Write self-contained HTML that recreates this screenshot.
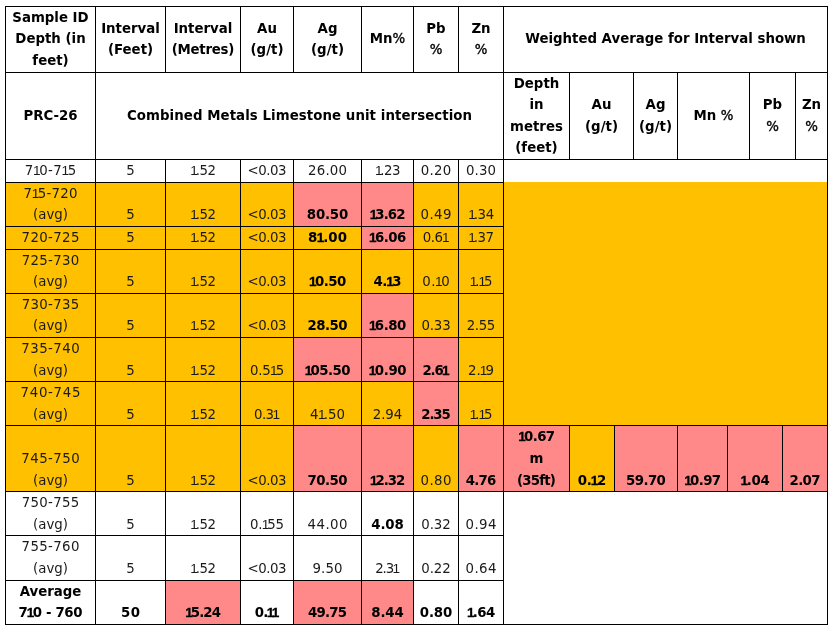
<!DOCTYPE html>
<html lang="en"><head><meta charset="utf-8"><title>PRC-26 assay intervals</title>
<style>
html,body{margin:0;padding:0;background:#fff}
body{width:835px;height:632px;position:relative;overflow:hidden;font-family:"DejaVu Sans","Liberation Sans",sans-serif;font-size:13.33px;color:#1a1a1a}
.r,.l,.t{position:absolute}
.l{background:#000}
.t{height:20px;line-height:20px;text-align:center;white-space:nowrap;font-weight:400}
.b{font-weight:700;color:#000}
.t i{font-style:normal;font-family:"Liberation Sans",sans-serif;font-size:13.6px;margin:0 -1.8px 0 -0.7px}
.b i{margin:0 -1.2px 0 -0.6px;-webkit-text-stroke:0.3px #000}
.t u{text-decoration:none;font-weight:400;-webkit-text-stroke:0.35px #000}
.t i.f{margin-left:0.4px}
.t i.e{margin-right:-0.2px}
.b i.f{margin-left:0.3px}
.b i.e{margin-right:0}

</style></head><body>
<div class="r" style="left:5px;top:182px;width:90px;height:44px;background:#FFC000"></div>
<div class="r" style="left:95px;top:182px;width:70px;height:44px;background:#FFC000"></div>
<div class="r" style="left:165px;top:182px;width:75px;height:44px;background:#FFC000"></div>
<div class="r" style="left:240px;top:182px;width:53px;height:44px;background:#FFC000"></div>
<div class="r" style="left:293px;top:182px;width:68px;height:44px;background:#FF8989"></div>
<div class="r" style="left:361px;top:182px;width:52px;height:44px;background:#FF8989"></div>
<div class="r" style="left:413px;top:182px;width:45px;height:44px;background:#FFC000"></div>
<div class="r" style="left:458px;top:182px;width:45px;height:44px;background:#FFC000"></div>
<div class="r" style="left:5px;top:226px;width:90px;height:23px;background:#FFC000"></div>
<div class="r" style="left:95px;top:226px;width:70px;height:23px;background:#FFC000"></div>
<div class="r" style="left:165px;top:226px;width:75px;height:23px;background:#FFC000"></div>
<div class="r" style="left:240px;top:226px;width:53px;height:23px;background:#FFC000"></div>
<div class="r" style="left:293px;top:226px;width:68px;height:23px;background:#FFC000"></div>
<div class="r" style="left:361px;top:226px;width:52px;height:23px;background:#FF8989"></div>
<div class="r" style="left:413px;top:226px;width:45px;height:23px;background:#FFC000"></div>
<div class="r" style="left:458px;top:226px;width:45px;height:23px;background:#FFC000"></div>
<div class="r" style="left:5px;top:249px;width:90px;height:44px;background:#FFC000"></div>
<div class="r" style="left:95px;top:249px;width:70px;height:44px;background:#FFC000"></div>
<div class="r" style="left:165px;top:249px;width:75px;height:44px;background:#FFC000"></div>
<div class="r" style="left:240px;top:249px;width:53px;height:44px;background:#FFC000"></div>
<div class="r" style="left:293px;top:249px;width:68px;height:44px;background:#FFC000"></div>
<div class="r" style="left:361px;top:249px;width:52px;height:44px;background:#FFC000"></div>
<div class="r" style="left:413px;top:249px;width:45px;height:44px;background:#FFC000"></div>
<div class="r" style="left:458px;top:249px;width:45px;height:44px;background:#FFC000"></div>
<div class="r" style="left:5px;top:293px;width:90px;height:44px;background:#FFC000"></div>
<div class="r" style="left:95px;top:293px;width:70px;height:44px;background:#FFC000"></div>
<div class="r" style="left:165px;top:293px;width:75px;height:44px;background:#FFC000"></div>
<div class="r" style="left:240px;top:293px;width:53px;height:44px;background:#FFC000"></div>
<div class="r" style="left:293px;top:293px;width:68px;height:44px;background:#FFC000"></div>
<div class="r" style="left:361px;top:293px;width:52px;height:44px;background:#FF8989"></div>
<div class="r" style="left:413px;top:293px;width:45px;height:44px;background:#FFC000"></div>
<div class="r" style="left:458px;top:293px;width:45px;height:44px;background:#FFC000"></div>
<div class="r" style="left:5px;top:337px;width:90px;height:44px;background:#FFC000"></div>
<div class="r" style="left:95px;top:337px;width:70px;height:44px;background:#FFC000"></div>
<div class="r" style="left:165px;top:337px;width:75px;height:44px;background:#FFC000"></div>
<div class="r" style="left:240px;top:337px;width:53px;height:44px;background:#FFC000"></div>
<div class="r" style="left:293px;top:337px;width:68px;height:44px;background:#FF8989"></div>
<div class="r" style="left:361px;top:337px;width:52px;height:44px;background:#FF8989"></div>
<div class="r" style="left:413px;top:337px;width:45px;height:44px;background:#FF8989"></div>
<div class="r" style="left:458px;top:337px;width:45px;height:44px;background:#FFC000"></div>
<div class="r" style="left:5px;top:381px;width:90px;height:44px;background:#FFC000"></div>
<div class="r" style="left:95px;top:381px;width:70px;height:44px;background:#FFC000"></div>
<div class="r" style="left:165px;top:381px;width:75px;height:44px;background:#FFC000"></div>
<div class="r" style="left:240px;top:381px;width:53px;height:44px;background:#FFC000"></div>
<div class="r" style="left:293px;top:381px;width:68px;height:44px;background:#FFC000"></div>
<div class="r" style="left:361px;top:381px;width:52px;height:44px;background:#FFC000"></div>
<div class="r" style="left:413px;top:381px;width:45px;height:44px;background:#FF8989"></div>
<div class="r" style="left:458px;top:381px;width:45px;height:44px;background:#FFC000"></div>
<div class="r" style="left:5px;top:425px;width:90px;height:66px;background:#FFC000"></div>
<div class="r" style="left:95px;top:425px;width:70px;height:66px;background:#FFC000"></div>
<div class="r" style="left:165px;top:425px;width:75px;height:66px;background:#FFC000"></div>
<div class="r" style="left:240px;top:425px;width:53px;height:66px;background:#FFC000"></div>
<div class="r" style="left:293px;top:425px;width:68px;height:66px;background:#FF8989"></div>
<div class="r" style="left:361px;top:425px;width:52px;height:66px;background:#FF8989"></div>
<div class="r" style="left:413px;top:425px;width:45px;height:66px;background:#FFC000"></div>
<div class="r" style="left:458px;top:425px;width:45px;height:66px;background:#FF8989"></div>
<div class="r" style="left:165px;top:580px;width:75px;height:44px;background:#FF8989"></div>
<div class="r" style="left:293px;top:580px;width:68px;height:44px;background:#FF8989"></div>
<div class="r" style="left:361px;top:580px;width:52px;height:44px;background:#FF8989"></div>
<div class="r" style="left:503px;top:182px;width:324px;height:243px;background:#FFC000"></div>
<div class="r" style="left:503px;top:425px;width:66px;height:66px;background:#FF8989"></div>
<div class="r" style="left:569px;top:425px;width:45px;height:66px;background:#FFC000"></div>
<div class="r" style="left:614px;top:425px;width:63px;height:66px;background:#FF8989"></div>
<div class="r" style="left:677px;top:425px;width:50px;height:66px;background:#FF8989"></div>
<div class="r" style="left:727px;top:425px;width:55px;height:66px;background:#FF8989"></div>
<div class="r" style="left:782px;top:425px;width:45px;height:66px;background:#FF8989"></div>
<div class="l" style="left:5px;top:6px;width:823px;height:1px"></div>
<div class="l" style="left:5px;top:624px;width:823px;height:1px"></div>
<div class="l" style="left:5px;top:6px;width:1px;height:619px"></div>
<div class="l" style="left:827px;top:6px;width:1px;height:619px"></div>
<div class="l" style="left:5px;top:72px;width:823px;height:1px"></div>
<div class="l" style="left:5px;top:159px;width:823px;height:1px"></div>
<div class="l" style="left:5px;top:182px;width:499px;height:1px"></div>
<div class="l" style="left:5px;top:226px;width:499px;height:1px"></div>
<div class="l" style="left:5px;top:249px;width:499px;height:1px"></div>
<div class="l" style="left:5px;top:293px;width:499px;height:1px"></div>
<div class="l" style="left:5px;top:337px;width:499px;height:1px"></div>
<div class="l" style="left:5px;top:381px;width:499px;height:1px"></div>
<div class="l" style="left:5px;top:425px;width:499px;height:1px"></div>
<div class="l" style="left:5px;top:491px;width:499px;height:1px"></div>
<div class="l" style="left:5px;top:535px;width:499px;height:1px"></div>
<div class="l" style="left:5px;top:580px;width:499px;height:1px"></div>
<div class="l" style="left:503px;top:425px;width:325px;height:1px"></div>
<div class="l" style="left:503px;top:491px;width:325px;height:1px"></div>
<div class="l" style="left:95px;top:6px;width:1px;height:67px"></div>
<div class="l" style="left:95px;top:159px;width:1px;height:466px"></div>
<div class="l" style="left:165px;top:6px;width:1px;height:67px"></div>
<div class="l" style="left:165px;top:159px;width:1px;height:466px"></div>
<div class="l" style="left:240px;top:6px;width:1px;height:67px"></div>
<div class="l" style="left:240px;top:159px;width:1px;height:466px"></div>
<div class="l" style="left:293px;top:6px;width:1px;height:67px"></div>
<div class="l" style="left:293px;top:159px;width:1px;height:466px"></div>
<div class="l" style="left:361px;top:6px;width:1px;height:67px"></div>
<div class="l" style="left:361px;top:159px;width:1px;height:466px"></div>
<div class="l" style="left:413px;top:6px;width:1px;height:67px"></div>
<div class="l" style="left:413px;top:159px;width:1px;height:466px"></div>
<div class="l" style="left:458px;top:6px;width:1px;height:67px"></div>
<div class="l" style="left:458px;top:159px;width:1px;height:466px"></div>
<div class="l" style="left:95px;top:72px;width:1px;height:88px"></div>
<div class="l" style="left:503px;top:6px;width:1px;height:619px"></div>
<div class="l" style="left:569px;top:72px;width:1px;height:88px"></div>
<div class="l" style="left:633px;top:72px;width:1px;height:88px"></div>
<div class="l" style="left:677px;top:72px;width:1px;height:88px"></div>
<div class="l" style="left:749px;top:72px;width:1px;height:88px"></div>
<div class="l" style="left:795px;top:72px;width:1px;height:88px"></div>
<div class="l" style="left:569px;top:425px;width:1px;height:67px"></div>
<div class="l" style="left:614px;top:425px;width:1px;height:67px"></div>
<div class="l" style="left:677px;top:425px;width:1px;height:67px"></div>
<div class="l" style="left:727px;top:425px;width:1px;height:67px"></div>
<div class="l" style="left:782px;top:425px;width:1px;height:67px"></div>
<div class="t b" style="left:6px;width:89px;top:8px">Sample ID</div>
<div class="t b" style="left:6px;width:89px;top:29px">Depth (in</div>
<div class="t b" style="left:6px;width:89px;top:51px">feet)</div>
<div class="t b" style="left:96px;width:69px;top:19px">Interval</div>
<div class="t b" style="left:96px;width:69px;top:40px">(Feet)</div>
<div class="t b" style="left:166px;width:74px;top:19px">Interval</div>
<div class="t b" style="left:166px;width:74px;top:40px;letter-spacing:-0.26px;text-indent:-0.26px">(Metres)</div>
<div class="t b" style="left:241px;width:52px;top:19px">Au</div>
<div class="t b" style="left:241px;width:52px;top:40px">(g/t)</div>
<div class="t b" style="left:294px;width:67px;top:19px">Ag</div>
<div class="t b" style="left:294px;width:67px;top:40px">(g/t)</div>
<div class="t b" style="left:362px;width:51px;top:29px">Mn<u>%</u></div>
<div class="t b" style="left:414px;width:44px;top:19px">Pb</div>
<div class="t b" style="left:414px;width:44px;top:40px"><u>%</u></div>
<div class="t b" style="left:459px;width:44px;top:19px">Zn</div>
<div class="t b" style="left:459px;width:44px;top:40px"><u>%</u></div>
<div class="t b" style="left:504px;width:323px;top:29px">Weighted Average for Interval shown</div>
<div class="t b" style="left:6px;width:89px;top:106px">PRC-26</div>
<div class="t b" style="left:96px;width:407px;top:106px;letter-spacing:0.07px;text-indent:0.07px">Combined Metals Limestone unit intersection</div>
<div class="t b" style="left:504px;width:65px;top:74px">Depth</div>
<div class="t b" style="left:504px;width:65px;top:95px">in</div>
<div class="t b" style="left:504px;width:65px;top:117px">metres</div>
<div class="t b" style="left:504px;width:65px;top:138px">(feet)</div>
<div class="t b" style="left:570px;width:63px;top:95px">Au</div>
<div class="t b" style="left:570px;width:63px;top:117px">(g/t)</div>
<div class="t b" style="left:634px;width:43px;top:95px">Ag</div>
<div class="t b" style="left:634px;width:43px;top:117px">(g/t)</div>
<div class="t b" style="left:678px;width:71px;top:106px">Mn <u>%</u></div>
<div class="t b" style="left:750px;width:45px;top:95px">Pb</div>
<div class="t b" style="left:750px;width:45px;top:117px"><u>%</u></div>
<div class="t b" style="left:796px;width:31px;top:95px">Zn</div>
<div class="t b" style="left:796px;width:31px;top:117px"><u>%</u></div>
<div class="t" style="left:6px;width:89px;top:161px;letter-spacing:0.4px;text-indent:0.4px">7<i>1</i>0-7<i>1</i>5</div>
<div class="t" style="left:96px;width:69px;top:161px">5</div>
<div class="t" style="left:166px;width:74px;top:161px;letter-spacing:-0.44px;text-indent:-0.44px"><i class="f">1</i>.52</div>
<div class="t" style="left:241px;width:52px;top:161px;letter-spacing:-0.51px;text-indent:-0.51px">&lt;0.03</div>
<div class="t" style="left:294px;width:67px;top:161px;letter-spacing:0.24px;text-indent:0.24px">26.00</div>
<div class="t" style="left:362px;width:51px;top:161px;letter-spacing:-0.51px;text-indent:-0.51px"><i class="f">1</i>.23</div>
<div class="t" style="left:414px;width:44px;top:161px;letter-spacing:0.25px;text-indent:0.25px">0.20</div>
<div class="t" style="left:459px;width:44px;top:161px;letter-spacing:0.18px;text-indent:0.18px">0.30</div>
<div class="t" style="left:6px;width:89px;top:184px;letter-spacing:0.26px;text-indent:0.26px">7<i>1</i>5-720</div>
<div class="t" style="left:6px;width:89px;top:205px">(avg)</div>
<div class="t" style="left:96px;width:69px;top:205px">5</div>
<div class="t" style="left:166px;width:74px;top:205px;letter-spacing:-0.44px;text-indent:-0.44px"><i class="f">1</i>.52</div>
<div class="t" style="left:241px;width:52px;top:205px;letter-spacing:-0.51px;text-indent:-0.51px">&lt;0.03</div>
<div class="t b" style="left:294px;width:67px;top:205px;letter-spacing:-0.2px;text-indent:-0.2px">80.50</div>
<div class="t b" style="left:362px;width:51px;top:205px;letter-spacing:-0.86px;text-indent:-0.86px"><i class="f">1</i>3.62</div>
<div class="t" style="left:414px;width:44px;top:205px;letter-spacing:0.45px;text-indent:0.45px">0.49</div>
<div class="t" style="left:459px;width:44px;top:205px;letter-spacing:-0.32px;text-indent:-0.32px"><i class="f">1</i>.34</div>
<div class="t" style="left:6px;width:89px;top:228px;letter-spacing:0.35px;text-indent:0.35px">720-725</div>
<div class="t" style="left:96px;width:69px;top:228px">5</div>
<div class="t" style="left:166px;width:74px;top:228px;letter-spacing:-0.44px;text-indent:-0.44px"><i class="f">1</i>.52</div>
<div class="t" style="left:241px;width:52px;top:228px;letter-spacing:-0.51px;text-indent:-0.51px">&lt;0.03</div>
<div class="t b" style="left:294px;width:67px;top:228px;letter-spacing:0.07px;text-indent:0.07px">8<i>1</i>.00</div>
<div class="t b" style="left:362px;width:51px;top:228px;letter-spacing:-0.52px;text-indent:-0.52px"><i class="f">1</i>6.06</div>
<div class="t" style="left:414px;width:44px;top:228px;letter-spacing:-0.41px;text-indent:-0.41px">0.6<i class="e">1</i></div>
<div class="t" style="left:459px;width:44px;top:228px;letter-spacing:-0.39px;text-indent:-0.39px"><i class="f">1</i>.37</div>
<div class="t" style="left:6px;width:89px;top:251px;letter-spacing:0.26px;text-indent:0.26px">725-730</div>
<div class="t" style="left:6px;width:89px;top:272px">(avg)</div>
<div class="t" style="left:96px;width:69px;top:272px">5</div>
<div class="t" style="left:166px;width:74px;top:272px;letter-spacing:-0.44px;text-indent:-0.44px"><i class="f">1</i>.52</div>
<div class="t" style="left:241px;width:52px;top:272px;letter-spacing:-0.51px;text-indent:-0.51px">&lt;0.03</div>
<div class="t b" style="left:294px;width:67px;top:272px;letter-spacing:-0.48px;text-indent:-0.48px"><i class="f">1</i>0.50</div>
<div class="t b" style="left:362px;width:51px;top:272px;letter-spacing:-0.5px;text-indent:-0.5px">4.<i>1</i>3</div>
<div class="t" style="left:414px;width:44px;top:272px;letter-spacing:0.33px;text-indent:0.33px">0.<i>1</i>0</div>
<div class="t" style="left:459px;width:44px;top:272px;letter-spacing:-0.3px;text-indent:-0.3px"><i class="f">1</i>.<i>1</i>5</div>
<div class="t" style="left:6px;width:89px;top:295px;letter-spacing:0.28px;text-indent:0.28px">730-735</div>
<div class="t" style="left:6px;width:89px;top:316px">(avg)</div>
<div class="t" style="left:96px;width:69px;top:316px">5</div>
<div class="t" style="left:166px;width:74px;top:316px;letter-spacing:-0.44px;text-indent:-0.44px"><i class="f">1</i>.52</div>
<div class="t" style="left:241px;width:52px;top:316px;letter-spacing:-0.51px;text-indent:-0.51px">&lt;0.03</div>
<div class="t b" style="left:294px;width:67px;top:316px;letter-spacing:-0.51px;text-indent:-0.51px">28.50</div>
<div class="t b" style="left:362px;width:51px;top:316px;letter-spacing:-0.45px;text-indent:-0.45px"><i class="f">1</i>6.80</div>
<div class="t" style="left:414px;width:44px;top:316px;letter-spacing:-0.15px;text-indent:-0.15px">0.33</div>
<div class="t" style="left:459px;width:44px;top:316px;letter-spacing:-0.42px;text-indent:-0.42px">2.55</div>
<div class="t" style="left:6px;width:89px;top:339px;letter-spacing:0.43px;text-indent:0.43px">735-740</div>
<div class="t" style="left:6px;width:89px;top:361px">(avg)</div>
<div class="t" style="left:96px;width:69px;top:361px">5</div>
<div class="t" style="left:166px;width:74px;top:361px;letter-spacing:-0.44px;text-indent:-0.44px"><i class="f">1</i>.52</div>
<div class="t" style="left:241px;width:52px;top:361px;letter-spacing:-0.14px;text-indent:-0.14px">0.5<i>1</i>5</div>
<div class="t b" style="left:294px;width:67px;top:361px;letter-spacing:-0.55px;text-indent:-0.55px"><i class="f">1</i>05.50</div>
<div class="t b" style="left:362px;width:51px;top:361px;letter-spacing:-0.35px;text-indent:-0.35px"><i class="f">1</i>0.90</div>
<div class="t b" style="left:414px;width:44px;top:361px;letter-spacing:-1.13px;text-indent:-1.13px">2.6<i class="e">1</i></div>
<div class="t" style="left:459px;width:44px;top:361px;letter-spacing:-0.17px;text-indent:-0.17px">2.<i>1</i>9</div>
<div class="t" style="left:6px;width:89px;top:383px;letter-spacing:0.68px;text-indent:0.68px">740-745</div>
<div class="t" style="left:6px;width:89px;top:405px">(avg)</div>
<div class="t" style="left:96px;width:69px;top:405px">5</div>
<div class="t" style="left:166px;width:74px;top:405px;letter-spacing:-0.44px;text-indent:-0.44px"><i class="f">1</i>.52</div>
<div class="t" style="left:241px;width:52px;top:405px;letter-spacing:-0.68px;text-indent:-0.68px">0.3<i class="e">1</i></div>
<div class="t" style="left:294px;width:67px;top:405px">4<i>1</i>.50</div>
<div class="t" style="left:362px;width:51px;top:405px">2.94</div>
<div class="t b" style="left:414px;width:44px;top:405px;letter-spacing:-1.11px;text-indent:-1.11px">2.35</div>
<div class="t" style="left:459px;width:44px;top:405px;letter-spacing:-0.3px;text-indent:-0.3px"><i class="f">1</i>.<i>1</i>5</div>
<div class="t" style="left:6px;width:89px;top:449px;letter-spacing:0.44px;text-indent:0.44px">745-750</div>
<div class="t" style="left:6px;width:89px;top:471px">(avg)</div>
<div class="t" style="left:96px;width:69px;top:471px">5</div>
<div class="t" style="left:166px;width:74px;top:471px;letter-spacing:-0.44px;text-indent:-0.44px"><i class="f">1</i>.52</div>
<div class="t" style="left:241px;width:52px;top:471px;letter-spacing:-0.51px;text-indent:-0.51px">&lt;0.03</div>
<div class="t b" style="left:294px;width:67px;top:471px;letter-spacing:-0.48px;text-indent:-0.48px">70.50</div>
<div class="t b" style="left:362px;width:51px;top:471px;letter-spacing:-1.01px;text-indent:-1.01px"><i class="f">1</i>2.32</div>
<div class="t" style="left:414px;width:44px;top:471px;letter-spacing:0.5px;text-indent:0.5px">0.80</div>
<div class="t b" style="left:459px;width:44px;top:471px;letter-spacing:-0.83px;text-indent:-0.83px">4.76</div>
<div class="t" style="left:6px;width:89px;top:493px;letter-spacing:0.29px;text-indent:0.29px">750-755</div>
<div class="t" style="left:6px;width:89px;top:515px">(avg)</div>
<div class="t" style="left:96px;width:69px;top:515px">5</div>
<div class="t" style="left:166px;width:74px;top:515px;letter-spacing:-0.44px;text-indent:-0.44px"><i class="f">1</i>.52</div>
<div class="t" style="left:241px;width:52px;top:515px;letter-spacing:-0.14px;text-indent:-0.14px">0.<i>1</i>55</div>
<div class="t" style="left:294px;width:67px;top:515px;letter-spacing:0.5px;text-indent:0.5px">44.00</div>
<div class="t b" style="left:362px;width:51px;top:515px;letter-spacing:-0.11px;text-indent:-0.11px">4.08</div>
<div class="t" style="left:414px;width:44px;top:515px">0.32</div>
<div class="t" style="left:459px;width:44px;top:515px;letter-spacing:0.39px;text-indent:0.39px">0.94</div>
<div class="t" style="left:6px;width:89px;top:537px;letter-spacing:0.35px;text-indent:0.35px">755-760</div>
<div class="t" style="left:6px;width:89px;top:559px">(avg)</div>
<div class="t" style="left:96px;width:69px;top:559px">5</div>
<div class="t" style="left:166px;width:74px;top:559px;letter-spacing:-0.44px;text-indent:-0.44px"><i class="f">1</i>.52</div>
<div class="t" style="left:241px;width:52px;top:559px;letter-spacing:-0.51px;text-indent:-0.51px">&lt;0.03</div>
<div class="t" style="left:294px;width:67px;top:559px;letter-spacing:0.1px;text-indent:0.1px">9.50</div>
<div class="t" style="left:362px;width:51px;top:559px;letter-spacing:-1.1px;text-indent:-1.1px">2.3<i class="e">1</i></div>
<div class="t" style="left:414px;width:44px;top:559px">0.22</div>
<div class="t" style="left:459px;width:44px;top:559px;letter-spacing:0.39px;text-indent:0.39px">0.64</div>
<div class="t b" style="left:6px;width:89px;top:582px">Average</div>
<div class="t b" style="left:6px;width:89px;top:603px;letter-spacing:-0.38px;text-indent:-0.38px">7<i>1</i>0 - 760</div>
<div class="t b" style="left:96px;width:69px;top:603px;letter-spacing:0.39px;text-indent:0.39px">50</div>
<div class="t b" style="left:166px;width:74px;top:603px;letter-spacing:-0.88px;text-indent:-0.88px"><i class="f">1</i>5.24</div>
<div class="t b" style="left:241px;width:52px;top:603px;letter-spacing:-0.82px;text-indent:-0.82px">0.<i>1</i><i class="e">1</i></div>
<div class="t b" style="left:294px;width:67px;top:603px;letter-spacing:-0.73px;text-indent:-0.73px">49.75</div>
<div class="t b" style="left:362px;width:51px;top:603px;letter-spacing:-0.15px;text-indent:-0.15px">8.44</div>
<div class="t b" style="left:414px;width:44px;top:603px;letter-spacing:-0.1px;text-indent:-0.1px">0.80</div>
<div class="t b" style="left:459px;width:44px;top:603px;letter-spacing:-0.51px;text-indent:-0.51px"><i class="f">1</i>.64</div>
<div class="t b" style="left:504px;width:65px;top:427px;letter-spacing:-0.6px;text-indent:-0.6px"><i class="f">1</i>0.67</div>
<div class="t b" style="left:504px;width:65px;top:449px">m</div>
<div class="t b" style="left:504px;width:65px;top:471px;letter-spacing:-0.8px;text-indent:-0.8px">(35ft)</div>
<div class="t b" style="left:570px;width:44px;top:471px;letter-spacing:-0.37px;text-indent:-0.37px">0.<i>1</i>2</div>
<div class="t b" style="left:615px;width:62px;top:471px;letter-spacing:-0.59px;text-indent:-0.59px">59.70</div>
<div class="t b" style="left:678px;width:49px;top:471px;letter-spacing:-0.6px;text-indent:-0.6px"><i class="f">1</i>0.97</div>
<div class="t b" style="left:728px;width:54px;top:471px;letter-spacing:-0.25px;text-indent:-0.25px"><i class="f">1</i>.04</div>
<div class="t b" style="left:783px;width:44px;top:471px;letter-spacing:-0.68px;text-indent:-0.68px">2.07</div>
</body></html>
